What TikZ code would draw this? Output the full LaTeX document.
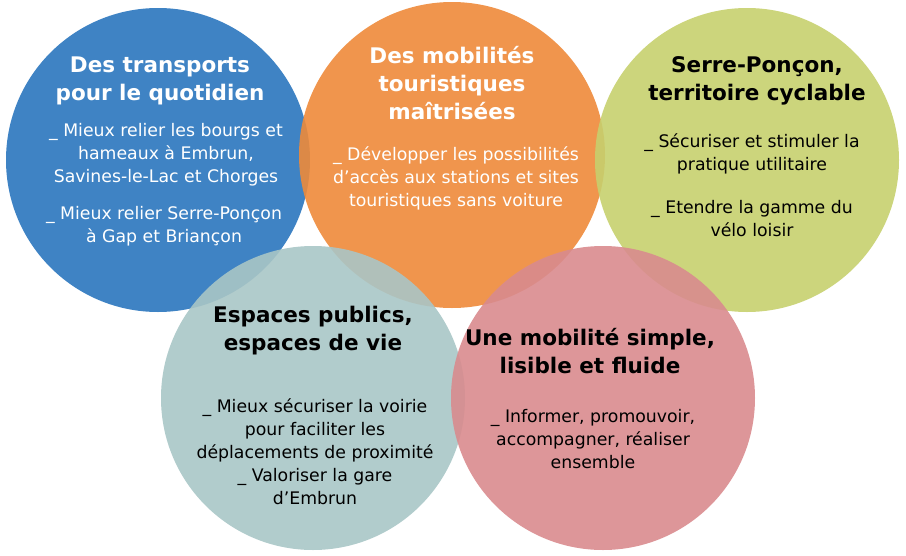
\documentclass[tikz,border=0pt]{standalone}
\usepackage{fontspec}
\setmainfont{DejaVu Sans}
\begin{document}
\begin{tikzpicture}[x=1pt,y=-1pt,
  circ/.style={fill=#1,fill opacity=0.9,draw=none},
  ttl/.style={font=\fontsize{21.5}{28}\selectfont\bfseries,align=center,inner sep=0},
  bdy/.style={font=\fontsize{17.3}{23}\selectfont,align=center,inner sep=0}]
\definecolor{cblue}{HTML}{2A76BE}
\definecolor{corange}{HTML}{EE8A3A}
\definecolor{cgreen}{HTML}{C7D06E}
\definecolor{cgrey}{HTML}{A9C6C6}
\definecolor{cpink}{HTML}{D98B8E}
\useasboundingbox (0,0) rectangle (906,555);
\fill[circ=cblue] (158,160) circle (152) coordinate (c1);
\fill[circ=corange] (452,155) circle (153);
\fill[circ=cgreen] (747,160) circle (152);
\fill[circ=cgrey] (313,398) circle (152);
\fill[circ=cpink] (603,398) circle (152);
\node[ttl,text=white] (t1) at (160,81) {Des transports\\pour le quotidien};
\node[bdy,text=white] (b1) at (166,155) {\_ Mieux relier les bourgs et\\hameaux à Embrun,\\Savines-le-Lac et Chorges};
\node[bdy,text=white] (b1b) at (164,226) {\_ Mieux relier Serre-Ponçon\\à Gap et Briançon};
\node[ttl,text=white] (t2) at (452,83) {Des mobilités\\touristiques\\maîtrisées};
\node[bdy,text=white] (b2) at (456,178) {\_ Développer les possibilités\\d’accès aux stations et sites\\touristiques sans voiture};
\node[ttl,text=black] (t3) at (757,81) {Serre-Ponçon,\\territoire cyclable};
\node[bdy,text=black] (b3) at (752,154) {\_ Sécuriser et stimuler la\\pratique utilitaire};
\node[bdy,text=black] (b3b) at (752,219) {\_ Etendre la gamme du\\vélo loisir};
\node[ttl,text=black] (t4) at (313,331) {Espaces publics,\\espaces de vie};
\node[bdy,text=black] (b4) at (315,452) {\_ Mieux sécuriser la voirie\\pour faciliter les\\déplacements de proximité\\\_ Valoriser la gare\\d’Embrun};
\node[ttl,text=black] (t5) at (590,351) {Une mobilité simple,\\lisible et fluide};
\node[bdy,text=black] (b5) at (593,439) {\_ Informer, promouvoir,\\accompagner, réaliser\\ensemble};
\end{tikzpicture}
\end{document}
